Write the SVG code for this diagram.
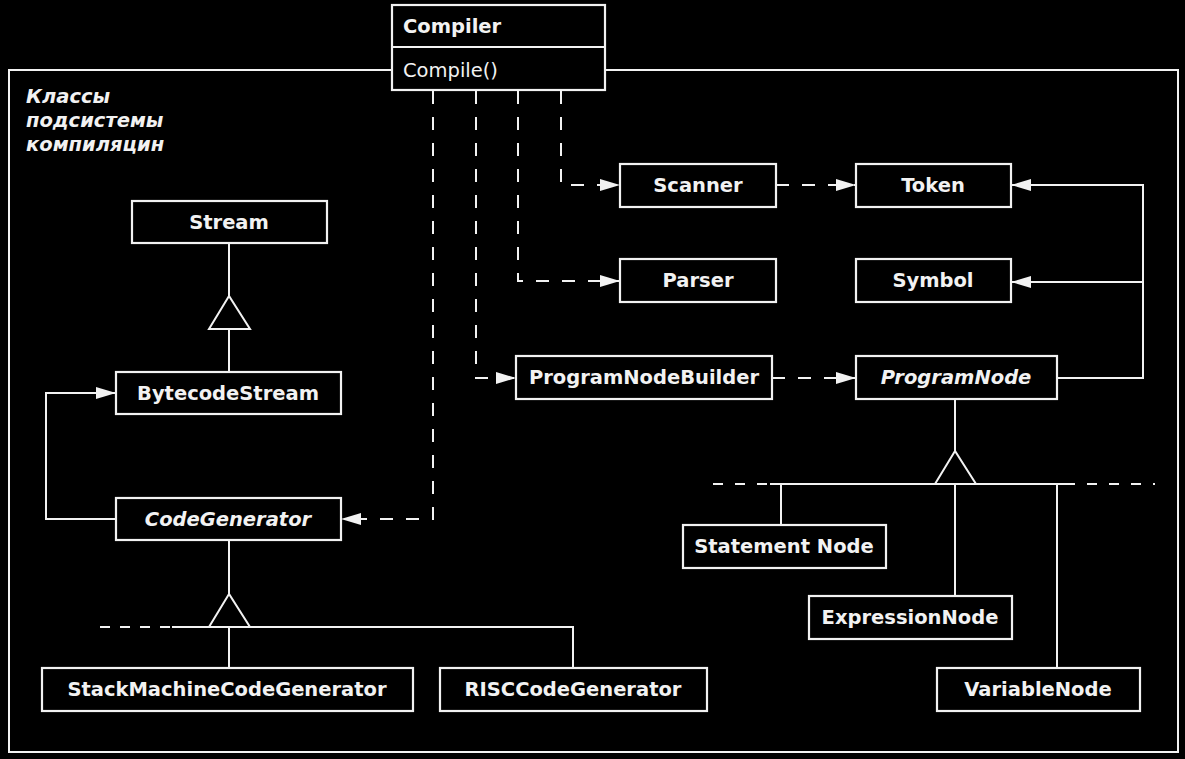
<svg xmlns="http://www.w3.org/2000/svg" width="1185" height="759" viewBox="0 0 1185 759">
<defs>
<marker id="arr" viewBox="0 0 20 12" refX="20" refY="6" markerWidth="20" markerHeight="12" markerUnits="userSpaceOnUse" orient="auto">
<path d="M0,0 L20,6 L0,12 z" fill="#f2f2f2"/>
</marker>
<style>
.box{fill:#000;stroke:#f2f2f2;stroke-width:2.2}
.t{font-family:"DejaVu Sans","Liberation Sans",sans-serif;font-size:19.5px;font-weight:bold;fill:#f2f2f2;text-anchor:middle}
.i{font-style:italic}
.n{font-weight:normal;text-anchor:start}
.l{fill:none;stroke:#f2f2f2;stroke-width:2}
.d{fill:none;stroke:#f2f2f2;stroke-width:2;stroke-dasharray:13 13}
.lbl{font-family:"DejaVu Sans","Liberation Sans",sans-serif;font-size:19.5px;font-weight:bold;font-style:italic;fill:#f2f2f2}
</style>
</defs>
<rect width="1185" height="759" fill="#000"/>
<g id="frame">
<rect x="9" y="70" width="1169" height="682" fill="none" stroke="#f2f2f2" stroke-width="2"/>
<text class="lbl" x="26" y="103">Классы</text>
<text class="lbl" x="26" y="127">подсистемы</text>
<text class="lbl" x="26" y="151">компиляцин</text>
</g>
<g id="connectors">
<path class="d" d="M433,91 V519 H341" marker-end="url(#arr)"/>
<path class="d" d="M476,91 V378 H516" marker-end="url(#arr)"/>
<path class="d" d="M518,91 V281 H620" marker-end="url(#arr)"/>
<path class="d" d="M561,91 V185 H620" marker-end="url(#arr)"/>
<path class="d" d="M776,185 H856" marker-end="url(#arr)"/>
<path class="d" d="M772,378 H856" marker-end="url(#arr)"/>
<path class="l" d="M1057,378 H1143 V185 H1011" marker-end="url(#arr)"/>
<path class="l" d="M1143,282 H1011" marker-end="url(#arr)"/>
<path class="l" d="M116,519 H46 V393 H116" marker-end="url(#arr)"/>
<path class="l" d="M229,243 V296 M229,329 V372"/>
<path class="l" d="M229,296 L209,329 H250 z"/>
<path class="l" d="M229,540 V594 M172,627 H573 V668 M229,627 V668"/>
<path class="d" style="stroke-dasharray:10 10" d="M100,627 H172"/>
<path class="l" d="M229,594 L209,627 H250 z"/>
<path class="l" d="M955,399 V451 M770,484 H1065 M781,484 V525 M955,484 V596 M1057,484 V668"/>
<path class="d" style="stroke-dasharray:10 12" d="M713,484 H770 M1065,484 H1155"/>
<path class="l" d="M955,451 L935,484 H976 z"/>
</g>
<g id="compiler">
<rect class="box" x="392" y="5" width="213" height="85"/>
<line class="l" x1="392" y1="47" x2="605" y2="47"/>
<text class="t" x="403" y="33" style="text-anchor:start">Compiler</text>
<text class="t n" x="403" y="77">Compile()</text>
</g>
<g id="stream"><rect class="box" x="132" y="201" width="195" height="42"/><text class="t" x="229" y="229">Stream</text></g>
<g id="bytecodestream"><rect class="box" x="116" y="372" width="225" height="42"/><text class="t" x="228" y="400">BytecodeStream</text></g>
<g id="codegenerator"><rect class="box" x="116" y="498" width="225" height="42"/><text class="t i" x="228" y="526">CodeGenerator</text></g>
<g id="stackmachinecodegenerator"><rect class="box" x="42" y="668" width="371" height="43"/><text class="t" x="227" y="696">StackMachineCodeGenerator</text></g>
<g id="risccodegenerator"><rect class="box" x="440" y="668" width="267" height="43"/><text class="t" x="573" y="696">RISCCodeGenerator</text></g>
<g id="scanner"><rect class="box" x="620" y="164" width="156" height="43"/><text class="t" x="698" y="192">Scanner</text></g>
<g id="token"><rect class="box" x="856" y="164" width="155" height="43"/><text class="t" x="933" y="192">Token</text></g>
<g id="parser"><rect class="box" x="620" y="259" width="156" height="43"/><text class="t" x="698" y="287">Parser</text></g>
<g id="symbol"><rect class="box" x="856" y="259" width="155" height="43"/><text class="t" x="933" y="287">Symbol</text></g>
<g id="programnodebuilder"><rect class="box" x="516" y="356" width="256" height="43"/><text class="t" x="644" y="384">ProgramNodeBuilder</text></g>
<g id="programnode"><rect class="box" x="856" y="356" width="201" height="43"/><text class="t i" x="956" y="384">ProgramNode</text></g>
<g id="statementnode"><rect class="box" x="683" y="525" width="203" height="43"/><text class="t" x="784" y="553">Statement Node</text></g>
<g id="expressionnode"><rect class="box" x="809" y="596" width="203" height="43"/><text class="t" x="910" y="624">ExpressionNode</text></g>
<g id="variablenode"><rect class="box" x="937" y="668" width="203" height="43"/><text class="t" x="1038" y="696">VariableNode</text></g>
</svg>
